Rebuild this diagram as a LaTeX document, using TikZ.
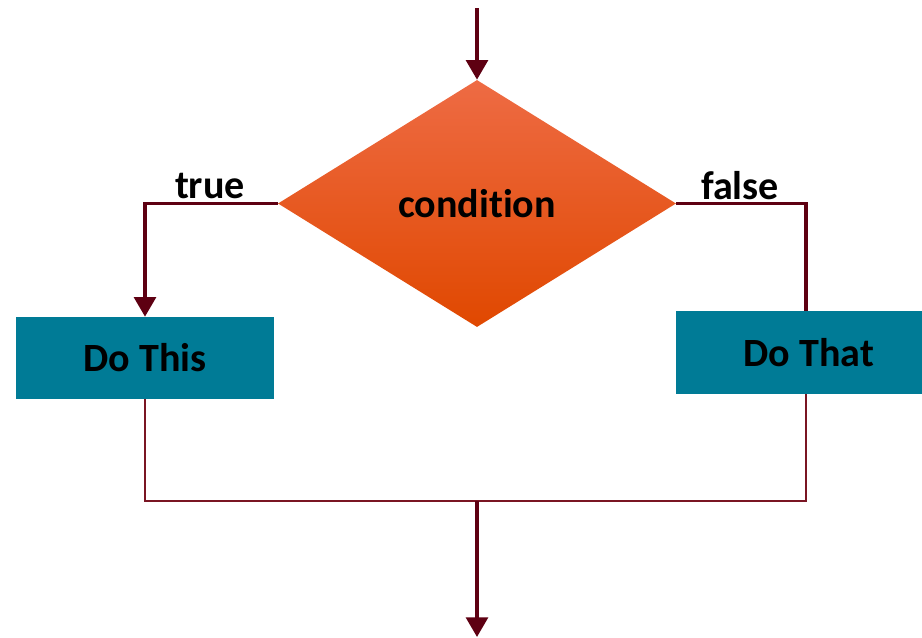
\documentclass[tikz,border=0pt]{standalone}
\usepackage{fontspec}
\setmainfont{Carlito}[Ligatures=NoCommon]
\usetikzlibrary{shapes.geometric,arrows.meta,positioning}

\definecolor{wire}{HTML}{5E0012}
\definecolor{wirelight}{HTML}{7A1523}
\definecolor{boxteal}{HTML}{007B96}
\definecolor{condtop}{HTML}{EE6B44}
\definecolor{condmid}{HTML}{EE5206}
\definecolor{condbot}{HTML}{E04800}

\tikzset{
  txt/.style={font=\fontsize{28.5}{33}\selectfont\bfseries},
  decision/.style={diamond, inner sep=0pt, minimum width=9.95cm, minimum height=6.175cm,
    top color=condtop, middle color=condmid, bottom color=condbot, txt},
  action/.style={rectangle, fill=boxteal, inner sep=0pt, txt},
  flow/.style={draw=wire, line width=2.6pt, -{Triangle[width=15.5pt,length=14pt]}},
  wireline/.style={draw=wire, line width=2.6pt},
  joinline/.style={draw=wirelight, line width=1.6pt},
}

\begin{document}
\begin{tikzpicture}[x=0.025cm,y=-0.025cm]
\useasboundingbox (0,0) rectangle (922,638);

% shapes
\node[decision] (cond) at (477,203.5) {condition};
\node[action, minimum width=6.45cm, minimum height=2.05cm] (dothis) at (145,358) {Do This};
\node[action, minimum width=6.15cm, minimum height=2.075cm] (dothat) at (799,352.5) {\hspace{14pt}Do That};

% loose ends of the connectors
\coordinate (in) at (477,8);
\coordinate (rjoin) at (806,501);
\coordinate (mjoin) at (477,501);
\coordinate (out) at (477,637);

% connectors
\draw[flow] (in) -- (cond.north);
\draw[flow] (cond.west) -| (dothis.north);
\draw[wireline] (cond.east) -| (rjoin |- dothat.north);
\draw[joinline] (dothis.south) |- (rjoin) -- (rjoin |- dothat.south);
\draw[flow] (mjoin) -- (out);

% branch labels
\node[txt] (true) at (210,186) {true};
\node[txt] (false) at (740,186) {false};
\end{tikzpicture}
\end{document}
